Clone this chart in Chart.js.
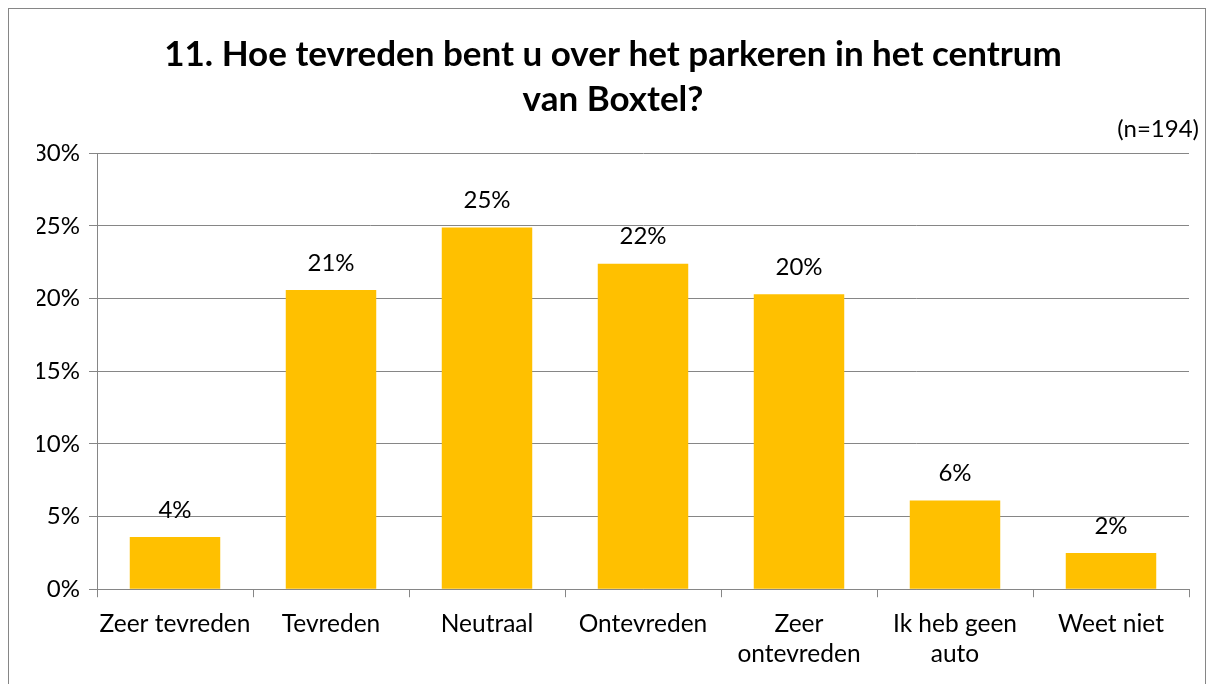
<!DOCTYPE html>
<html>
<head>
<meta charset="utf-8">
<script src="https://cdn.jsdelivr.net/npm/chart.js@4.4.1/dist/chart.umd.min.js"></script>
<style>
  html, body { margin: 0; padding: 0; background: #fff; overflow: hidden; }
  #wrap { position: absolute; left: 0; top: 0; width: 1214px; height: 684px; }
  #frame { position: absolute; left: 8px; top: 8px; width: 1198px; height: 700px; border: 1px solid #868686; pointer-events: none; box-sizing: border-box; }
</style>
</head>
<body>
<div id="wrap"><canvas id="c" width="1214" height="684"></canvas></div>
<div id="frame"></div>
<script>
const titleLines = ["11. Hoe tevreden bent u over het parkeren in het centrum", "van Boxtel?"];
const sampleNote = "(n=194)";
const categories = [["Zeer tevreden"], ["Tevreden"], ["Neutraal"], ["Ontevreden"], ["Zeer", "ontevreden"], ["Ik heb geen", "auto"], ["Weet niet"]];
const values = [3.6, 20.6, 24.9, 22.4, 20.3, 6.1, 2.5];
const valueLabels = ["4%", "21%", "25%", "22%", "20%", "6%", "2%"];
const yTicks = [0, 5, 10, 15, 20, 25, 30];

const FONT = "Lato, 'Open Sans', sans-serif";
const GRID = "#868686";

const labelPlugin = {
  id: "valueLabels",
  afterDatasetsDraw(chart) {
    const ctx = chart.ctx;
    const meta = chart.getDatasetMeta(0);
    ctx.save();
    ctx.font = "24px " + FONT;
    ctx.fillStyle = "#000";
    ctx.textAlign = "center";
    ctx.textBaseline = "middle";
    meta.data.forEach((bar, i) => {
      ctx.fillText(valueLabels[i], bar.x, bar.y - 27);
    });
    // sample size note, right-aligned near the frame
    ctx.font = "24px " + FONT;
    ctx.textAlign = "right";
    ctx.fillText(sampleNote, 1199, 129);
    ctx.restore();
  }
};

new Chart(document.getElementById("c"), {
  type: "bar",
  data: {
    labels: categories,
    datasets: [{
      data: values,
      backgroundColor: "#FFC000",
      borderWidth: 0,
      categoryPercentage: 1.0,
      barPercentage: 0.58
    }]
  },
  options: {
    responsive: false,
    animation: false,
    devicePixelRatio: 1,
    layout: { padding: { left: 37, right: 25, top: 0, bottom: 3 } },
    plugins: {
      legend: { display: false },
      tooltip: { enabled: false },
      title: {
        display: true,
        text: titleLines,
        color: "#000",
        font: { family: FONT, size: 35, weight: "bold", lineHeight: 1.29 },
        padding: { top: 32, bottom: 31 }
      }
    },
    scales: {
      x: {
        grid: { display: true, drawOnChartArea: false, drawTicks: true, tickLength: 8, color: GRID, offset: true },
        border: { display: true, color: GRID, width: 1 },
        ticks: { color: "#000", font: { family: FONT, size: 24.5, lineHeight: 1.22 }, padding: 12, maxRotation: 0, autoSkip: false }
      },
      y: {
        min: 0,
        max: 30,
        afterBuildTicks(scale) { scale.ticks = yTicks.map(v => ({ value: v })); },
        afterFit(scale) { scale.width = 60; },
        grid: { color: GRID, tickLength: 8, lineWidth: 1 },
        border: { display: true, color: GRID, width: 1 },
        ticks: { color: "#000", font: { family: FONT, size: 24 }, padding: 9, callback: v => v + "%" }
      }
    }
  },
  plugins: [labelPlugin]
});
</script>
</body>
</html>
